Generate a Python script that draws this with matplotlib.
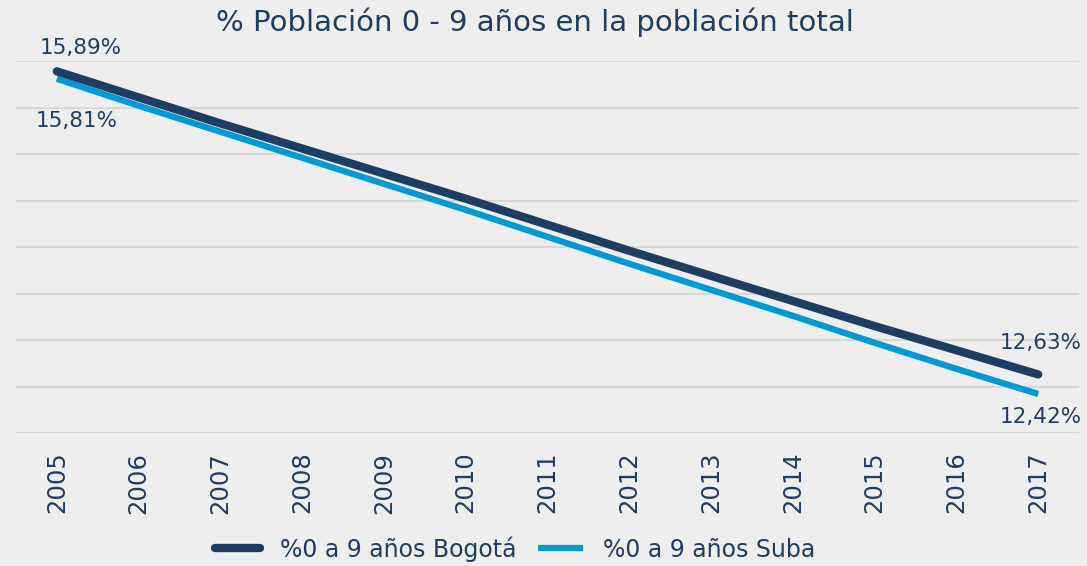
import matplotlib
matplotlib.use('Agg')
from matplotlib import pyplot as plt

# data
years = ['2005', '2006', '2007', '2008', '2009', '2010', '2011',
         '2012', '2013', '2014', '2015', '2016', '2017']
bogota = [15.89, 15.61, 15.33, 15.06, 14.79, 14.52, 14.24,
          13.96, 13.69, 13.42, 13.15, 12.89, 12.63]
suba = [15.81, 15.52, 15.24, 14.96, 14.68, 14.40, 14.11,
        13.82, 13.54, 13.26, 12.97, 12.69, 12.42]
names = ['%0 a 9 años Bogotá', '%0 a 9 años Suba']
title = '% Población 0 - 9 años en la población total'

bg = '#eeeeee'
navy = '#1e3d63'
blue = '#0099d4'
txt = '#1f3d64'

plt.rcParams['font.family'] = ['DejaVu Sans']

fig = plt.figure(figsize=(10.87, 5.66), dpi=100, facecolor=bg)
ax = fig.add_axes([0.0147, 0.235, 0.978, 0.657])
ax.set_facecolor(bg)

x = list(range(len(years)))
ax.plot(x, bogota, color=navy, lw=6, solid_capstyle='round', label=names[0], zorder=3, clip_on=False)
ax.plot(x, suba, color=blue, lw=4.5, solid_capstyle='butt', label=names[1], zorder=2, clip_on=False)

ax.set_xlim(-0.5, len(years) - 0.5)
ax.set_ylim(12, 16)
ax.set_yticks([12 + 0.5 * i for i in range(9)])
ax.yaxis.grid(True, color='#d8d8d8', lw=1.5)
ax.set_axisbelow(True)
ax.tick_params(axis='y', left=False, labelleft=False)
ax.tick_params(axis='x', bottom=False, pad=10, labelsize=17.5, labelcolor=txt)
ax.set_xticks(x)
ax.set_xticklabels(years, rotation=90, va='top')
for s in ax.spines.values():
    s.set_visible(False)

def lab(v):
    return ('%.2f%%' % v).replace('.', ',')

kw = dict(textcoords='offset pixels', ha='center', va='center', fontsize=15.5, color=txt)
ax.annotate(lab(bogota[0]), (x[0], bogota[0]), xytext=(24, 23), **kw)
ax.annotate(lab(suba[0]), (x[0], suba[0]), xytext=(20, -42), **kw)
ax.annotate(lab(bogota[-1]), (x[-1], bogota[-1]), xytext=(3, 31), **kw)
ax.annotate(lab(suba[-1]), (x[-1], suba[-1]), xytext=(3, -23), **kw)

fig.text(0.492, 0.961, title, ha='center', va='center', fontsize=21, color=txt)

fig.legend(loc='lower center', ncol=2, frameon=False, fontsize=17,
           labelcolor=txt, bbox_to_anchor=(0.474, -0.03),
           handlelength=1.9, columnspacing=0.9, handletextpad=0.85)

plt.savefig('out.png', dpi=100, facecolor=bg)
